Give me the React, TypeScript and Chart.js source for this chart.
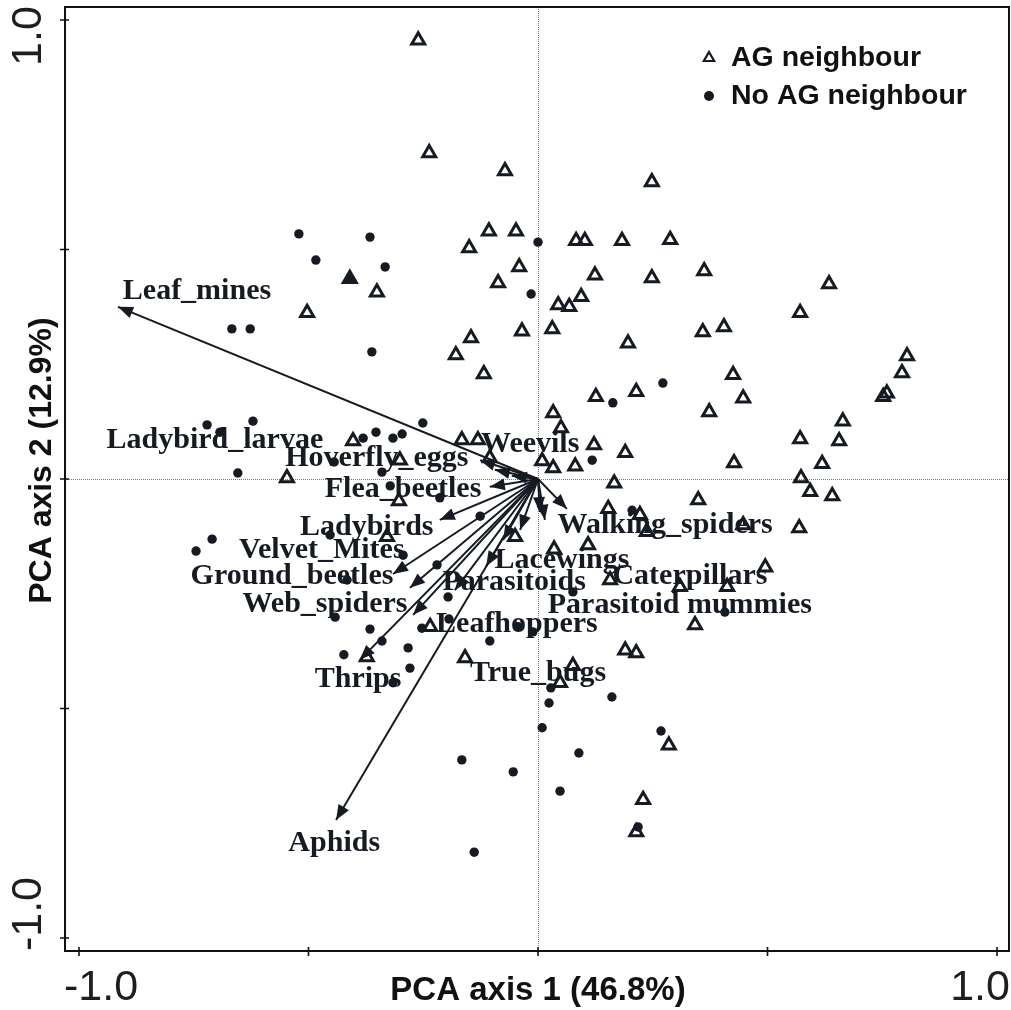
import React, { useEffect, useRef } from "react";
import { Chart, registerables } from "chart.js";

Chart.register(...registerables);

// ---- data ----
const agX = [
  -0.261, -0.237, -0.072, 0.248, -0.107, -0.048, -0.15, 0.083, 0.102, 0.183,
  0.288, -0.041, 0.124, 0.248, 0.362, -0.41, -0.351, -0.087, -0.503, 0.044,
  0.068, 0.094, -0.035, 0.031, -0.146, 0.196, 0.359, 0.405, 0.634, 0.571,
  0.804, 0.793, 0.425, 0.447, 0.76, 0.752, 0.126, 0.214, 0.373, 0.033,
  0.05, 0.664, 0.571, 0.656, 0.122, 0.19, 0.427, 0.619, 0.033, 0.081,
  0.573, 0.166, 0.593, 0.641, 0.349, 0.153, 0.222, 0.569, 0.109, 0.035,
  0.009, -0.105, -0.166, -0.131, 0.237, 0.447, -0.05, 0.495, 0.309, 0.157,
  0.412, 0.342, 0.19, 0.214, -0.159, 0.076, 0.048, 0.285, 0.229, 0.214,
  -0.235, -0.403, -0.547, -0.301, -0.303, -0.329, -0.373, -0.179, -0.118,
];
const agY = [
  0.956, 0.71, 0.671, 0.647, 0.54, 0.54, 0.503, 0.519, 0.519, 0.519,
  0.521, 0.462, 0.444, 0.438, 0.453, 0.436, 0.407, 0.427, 0.362, 0.379,
  0.375, 0.397, 0.322, 0.327, 0.307, 0.296, 0.32, 0.331, 0.425, 0.362,
  0.268, 0.231, 0.227, 0.176, 0.187, 0.179, 0.179, 0.19, 0.146, 0.144,
  0.111, 0.126, 0.087, 0.083, 0.074, 0.057, 0.035, 0.033, 0.024, 0.028,
  0.002, -0.009, -0.028, -0.037, -0.046, -0.065, -0.078, -0.107, -0.144, -0.153,
  0.039, 0.046, 0.085, 0.085, -0.115, -0.1, -0.126, -0.192, -0.235, -0.22,
  -0.235, -0.318, -0.373, -0.379, -0.39, -0.407, -0.444, -0.58, -0.699, -0.769,
  -0.322, 0.083, 0.002, 0.041, -0.048, -0.126, -0.388, 0.27, 0.229,
];

const noAgX = [
  -0.521, -0.366, -0.484, -0.333, 0.0, -0.015, -0.41, -0.362, -0.667, -0.627,
  -0.251, 0.163, 0.272, 0.118, -0.214, -0.126, -0.22, -0.196, 0.076, 0.205,
  0.407, -0.283, -0.279, -0.105, -0.194, -0.253, -0.044, -0.011, 0.028, 0.024,
  0.161, 0.009, 0.268, 0.089, -0.166, -0.054, 0.048, 0.218, -0.139, -0.721,
  -0.621, -0.693, -0.654, -0.381, -0.353, -0.316, -0.296, -0.444, -0.34, -0.322,
  -0.71, -0.745, -0.453, -0.416, -0.442, -0.366, -0.34, -0.423, -0.316, -0.294,
];
const noAgY = [
  0.534, 0.527, 0.477, 0.462, 0.516, 0.403, 0.436, 0.277, 0.327, 0.327,
  0.122, 0.166, 0.209, 0.041, -0.041, -0.081, -0.187, -0.257, -0.246, -0.068,
  -0.29, -0.368, -0.412, -0.353, -0.305, -0.325, -0.322, -0.333, -0.455, -0.488,
  -0.475, -0.542, -0.549, -0.597, -0.612, -0.638, -0.68, -0.758, -0.813, 0.118,
  0.126, 0.102, 0.013, 0.089, 0.102, 0.089, 0.098, 0.037, 0.015, -0.015,
  -0.131, -0.157, -0.122, -0.22, -0.301, -0.327, -0.353, -0.383, -0.444, -0.166,
];

const speciesNames = [
  "Leaf_mines", "Ladybird_larvae", "Hoverfly_eggs", "Weevils", "Flea_beetles",
  "Ladybirds", "Velvet_Mites", "Ground_beetles", "Web_spiders", "Thrips",
  "Aphids", "Walking_spiders", "Lacewings", "Parasitoids", "Caterpillars",
  "Parasitoid mummies", "Leafhoppers", "True_bugs",
];
const arrowX = [
  -0.915, -0.126, -0.094, -0.057, -0.105, -0.214, -0.316, -0.279, -0.272, -0.388,
  -0.44, 0.063, -0.076, -0.113, 0.015, 0.004, -0.181, -0.039,
];
const arrowY = [
  0.375, 0.041, 0.02, 0.007, -0.017, -0.089, -0.207, -0.237, -0.296, -0.394,
  -0.743, -0.065, -0.133, -0.19, -0.089, -0.072, -0.242, -0.111,
];
const labelX = [
  -0.743, -0.704, -0.351, -0.017, -0.294, -0.373, -0.471, -0.536, -0.464, -0.392,
  -0.444, 0.277, 0.052, -0.052, 0.331, 0.309, -0.046, 0.0,
];
const labelY = [
  0.41, 0.085, 0.046, 0.076, -0.022, -0.105, -0.155, -0.211, -0.272, -0.436,
  -0.793, -0.1, -0.176, -0.224, -0.211, -0.275, -0.316, -0.423,
];

const axisTicks = [-1, -0.5, 0, 0.5, 1];
const labelledTicks = [-1, 1];
const legendLabels = ["AG neighbour", "No AG neighbour"];
const xTitle = "PCA axis 1 (46.8%)";
const yTitle = "PCA axis 2 (12.9%)";

const INK = "#161a22";

const overlayPlugin = {
  id: "pcaOverlay",
  beforeDatasetsDraw(chart: any) {
    const { ctx, chartArea: a, scales } = chart;
    const x0 = scales.x.getPixelForValue(0);
    const y0 = scales.y.getPixelForValue(0);
    ctx.save();
    ctx.strokeStyle = "#777";
    ctx.lineWidth = 1;
    ctx.setLineDash([1, 1]);
    ctx.beginPath();
    ctx.moveTo(x0 + 0.5, a.top);
    ctx.lineTo(x0 + 0.5, a.bottom);
    ctx.moveTo(a.left, y0 + 0.5);
    ctx.lineTo(a.right, y0 + 0.5);
    ctx.stroke();
    ctx.restore();
  },
  afterDatasetsDraw(chart: any) {
    const { ctx, chartArea: a, scales } = chart;
    const xs = scales.x;
    const ys = scales.y;
    const x0 = xs.getPixelForValue(0);
    const y0 = ys.getPixelForValue(0);
    ctx.save();

    // arrowheads
    ctx.fillStyle = INK;
    for (let i = 0; i < arrowX.length; i++) {
      const tx = xs.getPixelForValue(arrowX[i]);
      const ty = ys.getPixelForValue(arrowY[i]);
      const ang = Math.atan2(ty - y0, tx - x0);
      const L = 15;
      const W = 6;
      const bx = tx - L * Math.cos(ang);
      const by = ty - L * Math.sin(ang);
      ctx.beginPath();
      ctx.moveTo(tx, ty);
      ctx.lineTo(bx - W * Math.sin(ang), by + W * Math.cos(ang));
      ctx.lineTo(bx + W * Math.sin(ang), by - W * Math.cos(ang));
      ctx.closePath();
      ctx.fill();
    }

    // species labels
    ctx.font = "bold 30px 'Liberation Serif'";
    ctx.textAlign = "center";
    ctx.textBaseline = "middle";
    ctx.fillStyle = INK;
    for (let i = 0; i < speciesNames.length; i++) {
      ctx.fillText(
        speciesNames[i],
        xs.getPixelForValue(labelX[i]),
        ys.getPixelForValue(labelY[i])
      );
    }

    // frame
    ctx.strokeStyle = "#111";
    ctx.lineWidth = 2;
    ctx.strokeRect(a.left, a.top, a.right - a.left, a.bottom - a.top);

    // tick marks crossing the frame
    ctx.lineWidth = 1.6;
    ctx.beginPath();
    for (const t of axisTicks) {
      const px = xs.getPixelForValue(t);
      ctx.moveTo(px, a.bottom - 4);
      ctx.lineTo(px, a.bottom + 5);
      const py = ys.getPixelForValue(t);
      ctx.moveTo(a.left - 5, py);
      ctx.lineTo(a.left + 4, py);
    }
    ctx.stroke();

    // tick labels
    ctx.fillStyle = "#1e1e1e";
    ctx.font = "43px 'Liberation Sans'";
    ctx.textBaseline = "middle";
    for (const t of labelledTicks) {
      const txt = t.toFixed(1);
      const px = xs.getPixelForValue(t) + (t < 0 ? 22 : -17);
      ctx.textAlign = "center";
      ctx.fillText(txt, px, a.bottom + 37);
      const py = ys.getPixelForValue(t) + (t < 0 ? -24 : 16);
      ctx.save();
      ctx.translate(a.left - 36, py);
      ctx.rotate(-Math.PI / 2);
      ctx.fillText(txt, 0, 0);
      ctx.restore();
    }

    // axis titles
    ctx.fillStyle = "#111";
    ctx.textAlign = "center";
    ctx.textBaseline = "middle";
    ctx.font = "bold 33px 'Liberation Sans'";
    ctx.fillText(xTitle, x0, a.bottom + 40);
    ctx.font = "bold 32px 'Liberation Sans'";
    ctx.save();
    ctx.translate(a.left - 23, ys.getPixelForValue(0.04));
    ctx.rotate(-Math.PI / 2);
    ctx.fillText(yTitle, 0, 0);
    ctx.restore();

    // legend
    const lx = 709;
    const ly = [58, 96];
    ctx.strokeStyle = INK;
    ctx.fillStyle = INK;
    ctx.lineWidth = 2.2;
    const r = 6;
    ctx.beginPath();
    ctx.moveTo(lx, ly[0] - r);
    ctx.lineTo(lx + r * 0.866, ly[0] + r * 0.5);
    ctx.lineTo(lx - r * 0.866, ly[0] + r * 0.5);
    ctx.closePath();
    ctx.stroke();
    ctx.beginPath();
    ctx.arc(lx, ly[1], 5, 0, Math.PI * 2);
    ctx.fill();
    ctx.font = "bold 28.5px 'Liberation Sans'";
    ctx.textAlign = "left";
    ctx.fillStyle = "#111";
    ctx.fillText(legendLabels[0], lx + 22, ly[0]);
    ctx.fillText(legendLabels[1], lx + 22, ly[1]);

    ctx.restore();
  },
};

export default function App() {
  const canvasRef = useRef<HTMLCanvasElement | null>(null);

  useEffect(() => {
    const canvas = canvasRef.current;
    if (!canvas) return;

    const arrowSets = speciesNames.map((name, i) => ({
      label: name,
      data: [
        { x: 0, y: 0 },
        { x: arrowX[i], y: arrowY[i] },
      ],
      showLine: true,
      borderColor: INK,
      borderWidth: 2,
      pointRadius: 0,
      fill: false,
    }));

    const chart = new Chart(canvas, {
      type: "scatter",
      data: {
        datasets: [
          ...arrowSets,
          {
            label: legendLabels[0],
            data: agX.map((x, i) => ({ x, y: agY[i] })),
            pointStyle: "triangle",
            pointRadius: 7.5,
            borderWidth: 3,
            borderColor: INK,
            backgroundColor: "rgba(255,255,255,0)",
          },
          {
            label: legendLabels[1],
            data: noAgX.map((x, i) => ({ x, y: noAgY[i] })),
            pointStyle: "circle",
            pointRadius: 4.7,
            borderWidth: 0,
            backgroundColor: INK,
          },
        ],
      },
      options: {
        responsive: false,
        animation: false,
        events: [],
        layout: { autoPadding: false, padding: { left: 65, top: 7, right: 2, bottom: 59 } },
        scales: {
          x: { type: "linear", min: -1.0305, max: 1.0261, display: false },
          y: { type: "linear", min: -1.0283, max: 1.0283, display: false },
        },
        plugins: {
          legend: { display: false },
          tooltip: { enabled: false },
        },
      },
      plugins: [overlayPlugin],
    });

    return () => chart.destroy();
  }, []);

  return (
    <div style={{ position: "absolute", left: 0, top: 0, width: 1011, height: 1010, background: "#fff" }}>
      <canvas ref={canvasRef} width={1011} height={1010} style={{ display: "block", width: 1011, height: 1010 }} />
    </div>
  );
}
